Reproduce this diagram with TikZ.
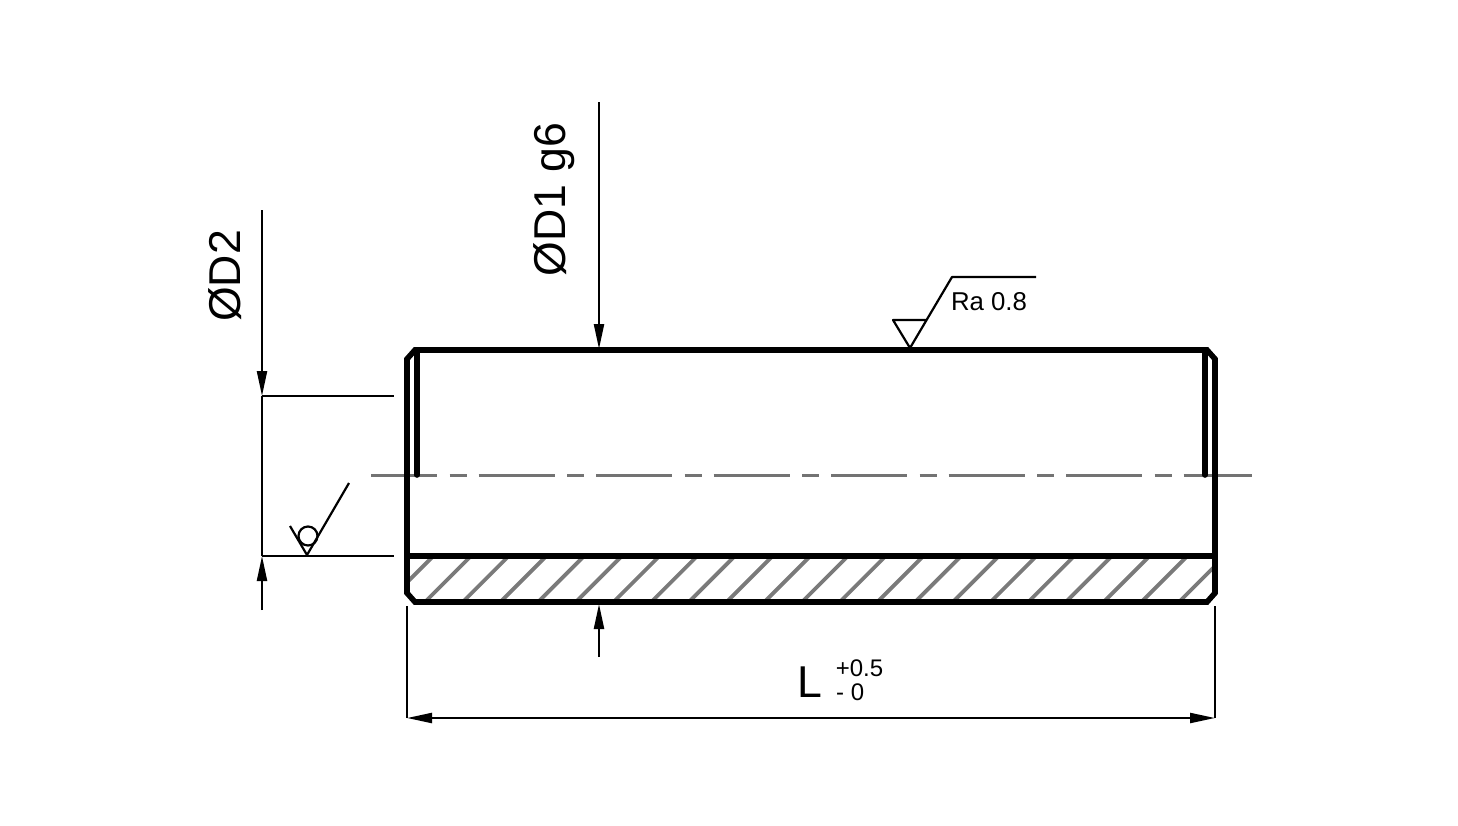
\documentclass[tikz,border=0pt]{standalone}
\usepackage{fontspec}
\setmainfont{Liberation Sans}
\usetikzlibrary{arrows.meta}
\newcommand{\bigFont}{\fontsize{44.6bp}{50bp}\selectfont}
\newcommand{\smallFont}{\fontsize{24bp}{24bp}\selectfont}
\newcommand{\hatchLines}{%%
  %% Hatching of the cut wall.
  \begin{scope}
    \clip (407,556) -- (1215,556) -- (1215,593) -- (1206,602) -- (416,602) -- (407,593) -- cycle;
    \foreach \k in {0,...,21}
      \draw[hatchStyle] ({387.3+37.7*\k},602) -- ++(46,-46);
  \end{scope}
}
\newcommand{\bushOutline}{%%
  %% The outline of the part.
  \draw[partStyle] (A) -- (B) -- (C) -- (D) -- (E) -- (F) -- (G) -- (H) -- cycle;
  %% The bore line.
  \draw[partStyle] (boreL) -- (boreR);
  %% The chamfer edges.
  \draw[partStyle,line cap=round] (B) ++ (2,0) -- (417,475);
  \draw[partStyle,line cap=round] (C) ++ (-2,0) -- (1205,475);
}
\begin{document}
\begin{tikzpicture}[%%
  x=1bp,y=-1bp,%%
  partStyle/.style={-,line width=5.6bp,line join=miter},%%
  hatchStyle/.style={-,line width=3.8bp,color=black!52},%%
  axisStyle/.style={-,line width=3bp,color=black!55,dash pattern=on 76bp off 12.5bp on 17bp off 12bp,dash phase=10bp},%%
  lineStyle/.style={-,line width=2.2bp},%%
  arrowStyle/.style={lineStyle,-{Triangle[length=25bp,width=10bp]}},%%
  bothStyle/.style={lineStyle,{Triangle[length=25bp,width=10bp]}-{Triangle[length=25bp,width=10bp]}},%%
]
\useasboundingbox (0,0) rectangle (1458,825);
%%
%% The corners of the part.
\coordinate (A) at (407,359);
\coordinate (B) at (415,350);
\coordinate (C) at (1207,350);
\coordinate (D) at (1215,359);
\coordinate (E) at (1215,593);
\coordinate (F) at (1207,602);
\coordinate (G) at (415,602);
\coordinate (H) at (407,593);
\coordinate (boreL) at (407,556);
\coordinate (boreR) at (1215,556);
%% The dimension points.
\coordinate (dOneTop) at (599,102);
\coordinate (dOneTip) at (599,349);
\coordinate (dOneLow) at (599,657);
\coordinate (dOneEnd) at (599,604);
\coordinate (dTwoTop) at (262,210);
\coordinate (dTwoTip) at (262,396);
\coordinate (dTwoLow) at (262,610);
\coordinate (dTwoEnd) at (262,556);
\coordinate (lenL) at (407,718);
\coordinate (lenR) at (1215,718);
%%
\hatchLines
\draw[axisStyle] (371,475) -- (1252,475);
\bushOutline
%%
%% Diameter D1.
\draw[arrowStyle] (dOneTop) -- (dOneTip);
\draw[arrowStyle] (dOneLow) -- (dOneEnd);
\node[rotate=90,inner sep=0pt] (dOneText) at (554,199.5) {\bigFont ØD1 g6};
%% Diameter D2.
\draw[arrowStyle] (dTwoTop) -- (dTwoTip);
\draw[lineStyle] (dTwoTip) -- (dTwoEnd);
\draw[arrowStyle] (dTwoLow) -- (dTwoEnd);
\draw[lineStyle] (dTwoTip) -- (394,396);
\draw[lineStyle] (dTwoEnd) -- (394,556);
\node[rotate=90,inner sep=0pt] (dTwoText) at (225,276) {\bigFont ØD2};
%% Length L.
\draw[bothStyle] (lenL) -- (lenR);
\draw[lineStyle] (lenL) -- (407,606);
\draw[lineStyle] (lenR) -- (1215,606);
\node[inner sep=0pt] (lenText) at (810,682) {\bigFont L};
\node[inner sep=0pt] (lenUp) at (859.5,668) {\smallFont +0.5};
\node[inner sep=0pt,anchor=west] (lenDown) at (836,692) {\smallFont - 0};
%% Surface mark on top.
\draw[lineStyle,line join=round] (927,320) -- (893,320) -- (910,348) -- (952,277) -- (1036,277);
\node[inner sep=0pt] (raText) at (989,302) {\fontsize{25.8bp}{26bp}\selectfont Ra 0.8};
%% Surface mark at the bore.
\draw[lineStyle,line join=round] (290,526) -- (307,555) -- (349,483);
\draw[lineStyle] (308,536) circle (9.5);
\end{tikzpicture}
\end{document}
